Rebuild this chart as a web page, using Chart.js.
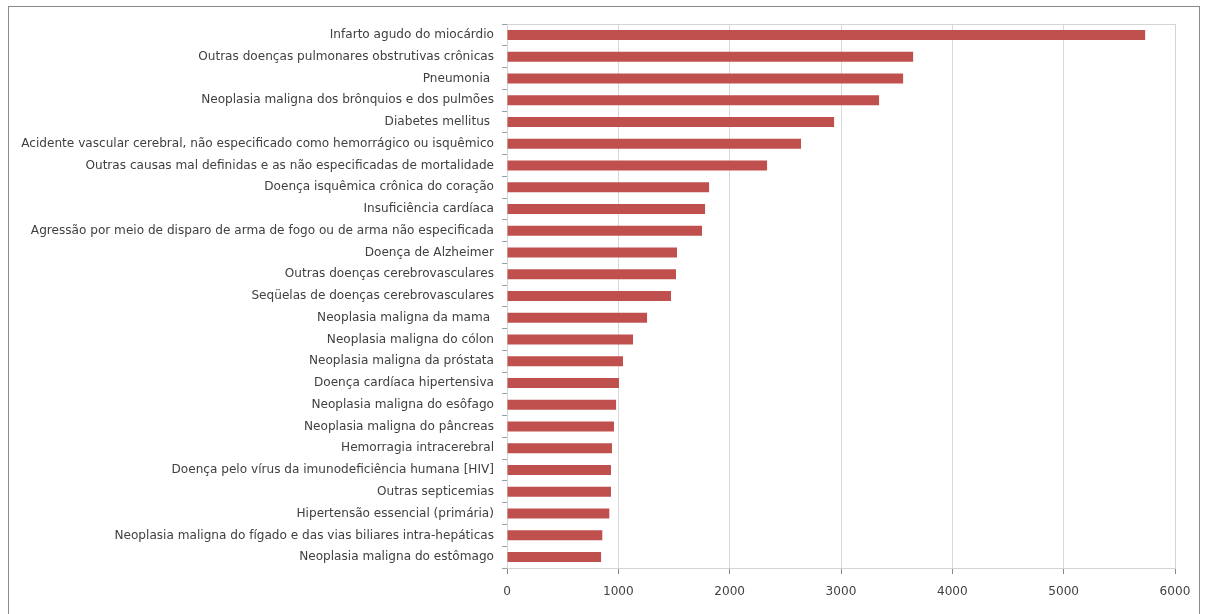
<!DOCTYPE html>
<html>
<head>
<meta charset="utf-8">
<script src="https://cdn.jsdelivr.net/npm/chart.js@4.4.1/dist/chart.umd.min.js"></script>
<style>
	html, body { margin: 0; padding: 0; background: #fff; }
	#wrap { position: relative; width: 1210px; height: 614px; overflow: hidden; }
	#frame { position: absolute; left: 8px; top: 6px; width: 1192px; height: 640px; border: 1px solid #8a8a8a; box-sizing: border-box; }
	canvas { position: absolute; left: 0; top: 0; }
</style>
</head>
<body>
<div id="wrap">
	<div id="frame"></div>
	<canvas id="chart" width="1210" height="614"></canvas>
</div>
<script>
	// causas de óbito, em ordem decrescente
	const causas = [
		'Infarto agudo do miocárdio',
		'Outras doenças pulmonares obstrutivas crônicas',
		'Pneumonia ',
		'Neoplasia maligna dos brônquios e dos pulmões',
		'Diabetes mellitus ',
		'Acidente vascular cerebral, não especificado como hemorrágico ou isquêmico',
		'Outras causas mal definidas e as não especificadas de mortalidade',
		'Doença isquêmica crônica do coração',
		'Insuficiência cardíaca',
		'Agressão por meio de disparo de arma de fogo ou de arma não especificada',
		'Doença de Alzheimer',
		'Outras doenças cerebrovasculares',
		'Seqüelas de doenças cerebrovasculares',
		'Neoplasia maligna da mama ',
		'Neoplasia maligna do cólon',
		'Neoplasia maligna da próstata',
		'Doença cardíaca hipertensiva',
		'Neoplasia maligna do esôfago',
		'Neoplasia maligna do pâncreas',
		'Hemorragia intracerebral',
		'Doença pelo vírus da imunodeficiência humana [HIV]',
		'Outras septicemias',
		'Hipertensão essencial (primária)',
		'Neoplasia maligna do fígado e das vias biliares intra-hepáticas',
		'Neoplasia maligna do estômago'
	];

	const obitos = [
		5732, 3648, 3558, 3342, 2938, 2641, 2336, 1815, 1779, 1752,
		1527, 1518, 1473, 1258, 1132, 1042, 1006, 980, 961, 943,
		934, 934, 919, 856, 845
	];

	const eixoMax = 6000;
	const eixoPasso = 1000;

	// contorno cinza claro da área de plotagem
	const bordaArea = {
		id: 'bordaArea',
		beforeDatasetsDraw(chart) {
			const a = chart.chartArea;
			const ctx = chart.ctx;
			ctx.save();
			ctx.strokeStyle = '#d4d4d4';
			ctx.lineWidth = 1;
			ctx.strokeRect(a.left + 0.5, a.top + 0.5, a.right - a.left, a.bottom - a.top);
			ctx.restore();
		}
	};

	const fonte = { family: "'DejaVu Sans', sans-serif", size: 12.1 };

	new Chart(document.getElementById('chart'), {
		type: 'bar',
		data: {
			labels: causas,
			datasets: [{
				data: obitos,
				backgroundColor: '#c0504d',
				borderWidth: 0,
				barPercentage: 0.46,
				categoryPercentage: 1
			}]
		},
		options: {
			indexAxis: 'y',
			responsive: false,
			animation: false,
			layout: { padding: { top: 24, right: 35, left: 0, bottom: 0 } },
			plugins: {
				legend: { display: false },
				tooltip: { enabled: false }
			},
			scales: {
				x: {
					min: 0,
					max: eixoMax,
					afterFit(scale) { scale.height = 46; },
					ticks: {
						stepSize: eixoPasso,
						color: '#404040',
						font: fonte,
						padding: 11,
						callback: (v) => String(v)
					},
					grid: {
						color: '#d9d9d9',
						tickColor: '#868686',
						tickLength: 6
					},
					border: { color: '#868686' }
				},
				y: {
					afterFit(scale) { scale.width = 507; },
					ticks: {
						color: '#404040',
						font: fonte,
						padding: 8,
						autoSkip: false
					},
					grid: {
						offset: true,
						drawOnChartArea: false,
						tickColor: '#8fa0a8',
						tickLength: 5
					},
					border: { color: '#868686' }
				}
			}
		},
		plugins: [bordaArea]
	});
</script>
</body>
</html>
